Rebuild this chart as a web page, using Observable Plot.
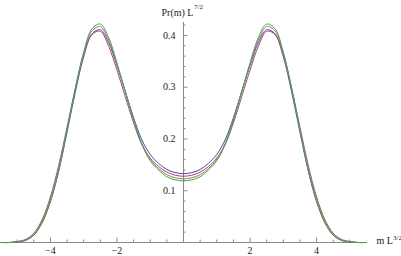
<!DOCTYPE html>
<html>
<head>
<meta charset="utf-8">
<script src="https://cdn.jsdelivr.net/npm/d3@7"></script>
<script src="https://cdn.jsdelivr.net/npm/@observablehq/plot@0.6"></script>
<style>
  html, body { margin: 0; padding: 0; background: #fff; }
  #chart svg { display: block; }
</style>
</head>
<body>
<div id="chart"></div>
<script>
// x grid: m L^{3/2}
const xs = [-5.5,-5.25,-5,-4.75,-4.5,-4.25,-4,-3.75,-3.5,-3.25,-3,-2.75,-2.5,-2.25,-2,-1.75,-1.5,-1.25,-1,-0.75,-0.5,-0.25,0,
            0.25,0.5,0.75,1,1.25,1.5,1.75,2,2.25,2.5,2.75,3,3.25,3.5,3.75,4,4.25,4.5,4.75,5,5.25,5.5];

// Pr(m) L^{7/2} for the four curves
const seriesBlue   = [0,0,.001,.004,.014,.038,.079,.138,.213,.291,.359,.403,.411,.386,.342,.292,.241,.198,.170,.153,.141,.135,.133,
                      .135,.141,.153,.170,.198,.241,.292,.342,.386,.411,.403,.359,.291,.213,.138,.079,.038,.014,.004,.001,0,0];
const seriesPurple = [0,0,.002,.006,.018,.044,.088,.149,.223,.298,.362,.402,.408,.379,.333,.282,.231,.189,.163,.147,.136,.130,.128,
                      .130,.136,.147,.163,.189,.231,.282,.333,.379,.408,.402,.362,.298,.223,.149,.088,.044,.018,.006,.002,0,0];
const seriesOrange = [0,0,.001,.005,.015,.041,.083,.143,.218,.297,.365,.409,.417,.391,.344,.291,.237,.191,.161,.143,.131,.125,.123,
                      .125,.131,.143,.161,.191,.237,.291,.344,.391,.417,.409,.365,.297,.218,.143,.083,.041,.015,.005,.001,0,0];
const seriesGreen  = [0,0,.001,.004,.014,.038,.080,.140,.217,.298,.368,.413,.422,.396,.347,.292,.236,.189,.158,.140,.127,.121,.119,
                      .121,.127,.140,.158,.189,.236,.292,.347,.396,.422,.413,.368,.298,.217,.140,.080,.038,.014,.004,.001,0,0];

const seriesNames  = ["blue", "purple", "orange", "green"];
const seriesColors = ["#4A48A8", "#A4467F", "#A47E45", "#44A35A"];
const seriesValues = [seriesBlue, seriesPurple, seriesOrange, seriesGreen];

// ticks
const xMajorTicks = [-4, -2, 2, 4];
const xMinorTicks = [-5,-4.5,-3.5,-3,-2.5,-1.5,-1,-0.5,0.5,1,1.5,2.5,3,3.5,4.5,5];
const yMajorTicks = [0.1, 0.2, 0.3, 0.4];
const yMinorTicks = [0.02,0.04,0.06,0.08,0.12,0.14,0.16,0.18,0.22,0.24,0.26,0.28,0.32,0.34,0.36,0.38,0.42];

const xLabel = ["m L", "3/2"];
const yLabel = ["Pr(m) L", "7/2"];

const axisColor = "#8a8a8a";
const textColor = "#222";
const font = "'Liberation Serif', 'Times New Roman', serif";

const lines = seriesValues.map((vals, k) =>
  Plot.line(xs.map((x, i) => ({x, y: vals[i], s: seriesNames[k]})), {
    x: "x", y: "y", stroke: seriesColors[k], strokeWidth: 1, curve: "catmull-rom"
  })
);

const chart = Plot.plot({
  width: 401,
  height: 256,
  marginLeft: 0,
  marginRight: 35,
  marginTop: 22,
  marginBottom: 14,
  style: {fontFamily: font, fontSize: "10px", background: "#fff", overflow: "visible"},
  x: {domain: [-5.5, 5.5], axis: null},
  y: {domain: [0, 0.425], axis: null},
  marks: [
    // axes through the origin
    Plot.ruleY([0], {stroke: axisColor, strokeWidth: 1}),
    Plot.ruleX([0], {stroke: axisColor, strokeWidth: 1}),
    // x ticks (pointing up)
    Plot.ruleX(xMajorTicks, {x: d => d, y1: () => 0, y2: () => 0, insetTop: -4.5, stroke: axisColor}),
    Plot.ruleX(xMinorTicks, {x: d => d, y1: () => 0, y2: () => 0, insetTop: -2.5, stroke: axisColor}),
    // y ticks (pointing right)
    Plot.ruleY(yMajorTicks, {y: d => d, x1: () => 0, x2: () => 0, insetRight: -4.5, stroke: axisColor}),
    Plot.ruleY(yMinorTicks, {y: d => d, x1: () => 0, x2: () => 0, insetRight: -2.5, stroke: axisColor}),
    // tick labels
    Plot.text(xMajorTicks, {x: d => d, y: () => 0, text: d => (d < 0 ? "\u2212" : "") + Math.abs(d),
      dy: 8.5, fill: textColor, fontSize: 10}),
    Plot.text(yMajorTicks, {x: () => 0, y: d => d, text: d => d.toFixed(1),
      dx: -8, textAnchor: "end", fill: textColor, fontSize: 10}),
    // axis labels
    Plot.text([yLabel[0]], {frameAnchor: "top", text: d => d, textAnchor: "start", dx: -22, dy: -14, fill: textColor, fontSize: 10}),
    Plot.text([yLabel[1]], {frameAnchor: "top", text: d => d, textAnchor: "start", dx: 10.5, dy: -18, fill: textColor, fontSize: 7}),
    Plot.text([xLabel[0]], {frameAnchor: "bottom-right", text: d => d, textAnchor: "start", dx: 10, dy: 1, fill: textColor, fontSize: 10}),
    Plot.text([xLabel[1]], {frameAnchor: "bottom-right", text: d => d, textAnchor: "start", dx: 26.5, dy: -3, fill: textColor, fontSize: 7}),
    ...lines
  ]
});

document.getElementById("chart").appendChild(chart);
</script>
</body>
</html>
